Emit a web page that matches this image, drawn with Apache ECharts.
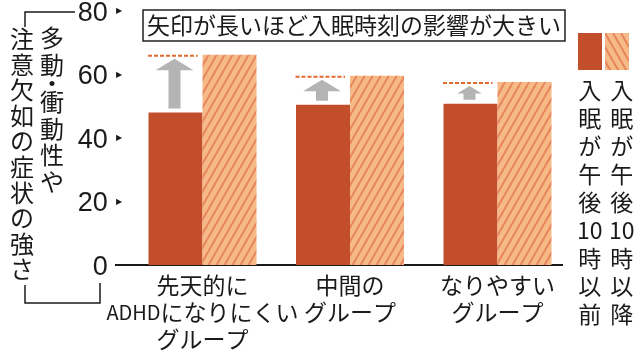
<!DOCTYPE html>
<html><head><meta charset="utf-8">
<script src="https://cdn.jsdelivr.net/npm/echarts@6/dist/echarts.min.js"></script>
<style>html,body{margin:0;padding:0;background:#fff}#c{width:640px;height:356px}</style>
</head><body><div id="c"></div>
<script>
const categories = ['先天的に\nADHDになりにくい\nグループ', '中間の\nグループ', 'なりやすい\nグループ'];
const before10 = [48.0, 50.5, 50.8];
const after10 = [66.2, 59.6, 57.6];
const yTicks = [0, 20, 40, 60, 80];
const seriesNames = ['入眠が午後10時以前', '入眠が午後10時以降'];
const titleText = '矢印が長いほど入眠時刻の影響が大きい';
const yTitleA = ['多', '動', '・', '衝', '動', '性', 'や'];
const yTitleB = ['注', '意', '欠', '如', 'の', '症', '状', 'の', '強', 'さ'];
const legendCells = [['入', '眠', 'が', '午', '後', '10', '時', '以', '前'], ['入', '眠', 'が', '午', '後', '10', '時', '以', '降']];

const CJK = "'Liberation Sans Narrow','Noto Sans CJK JP'";
const SOLID = '#c24e2c';
const HBG = '#f6b988';
const HSTR = '#e8855a';

function hatch(dir) {
  const w = 8, h = 14;
  const c = document.createElement('canvas');
  c.width = w; c.height = h;
  const g = c.getContext('2d');
  g.fillStyle = HBG; g.fillRect(0, 0, w, h);
  g.strokeStyle = HSTR; g.lineWidth = 2;
  for (let k = -1; k <= 1; k++) {
    g.beginPath();
    if (dir > 0) { g.moveTo(k * w, h); g.lineTo(k * w + w, 0); }
    else { g.moveTo(k * w, 0); g.lineTo(k * w + w, h); }
    g.stroke();
  }
  return c;
}
const patBar = { image: hatch(1), repeat: 'repeat' };
const patLeg = { image: hatch(-1), repeat: 'repeat' };

const BARW = 54;
const arrowData = categories.map((c, i) => [i, before10[i], after10[i]]);

const chart = echarts.init(document.getElementById('c'), null, { renderer: 'canvas' });
chart.setOption({
  animation: false,
  backgroundColor: '#fff',
  title: {
    text: titleText, left: 143, top: 10,
    borderColor: '#222', borderWidth: 1.5, padding: [3, 4, 3, 4],
    backgroundColor: '#fff',
    textStyle: { fontFamily: CJK, fontSize: 23, fontWeight: 'normal', color: '#1a1a1a', lineHeight: 25 }
  },
  legend: {
    left: 578, top: 33, padding: 0, itemWidth: 24, itemHeight: 37, itemGap: 3, icon: 'rect',
    formatter: () => '', selectedMode: false,
    data: [
      { name: seriesNames[0], itemStyle: { color: SOLID } },
      { name: seriesNames[1], itemStyle: { color: patLeg } }
    ]
  },
  grid: { left: 128.75, width: 442.5, top: 10, height: 255 },
  xAxis: {
    type: 'category', data: categories,
    axisLine: { show: false }, axisTick: { show: false },
    axisLabel: {
      interval: 0, margin: 7, fontFamily: CJK, fontSize: 23, lineHeight: 27, color: '#1a1a1a',
      formatter: v => v.replace('ADHD', '{s|ADHD}'),
      rich: { s: { fontFamily: CJK, fontSize: 20, lineHeight: 27, color: '#1a1a1a' } }
    }
  },
  yAxis: {
    type: 'value', min: 0, max: 80, interval: 20,
    splitLine: { show: false }, axisLine: { show: false }, axisTick: { show: false },
    axisLabel: {
      margin: 7,
      formatter: v => v === 0 ? '{n|' + v + '}{e| }' : '{n|' + v + '}{t|▶}',
      rich: {
        n: { fontFamily: "'Liberation Sans'", fontSize: 27, color: '#1a1a1a', padding: [5, 0, 0, 0] },
        t: { fontSize: 8, width: 14, align: 'right', color: '#1a1a1a' },
        e: { fontSize: 8, width: 14 }
      }
    }
  },
  series: [
    { name: seriesNames[0], type: 'bar', data: before10, barWidth: BARW, barGap: '0%', itemStyle: { color: SOLID } },
    { name: seriesNames[1], type: 'bar', data: after10, barWidth: BARW, barGap: '0%', itemStyle: { color: patBar } },
    {
      name: 'arrow', type: 'custom', z: 5, data: arrowData,
      encode: { x: 0, y: [1, 2] },
      renderItem: function (params, api) {
        const idx = api.value(0);
        const center = api.coord([idx, 0])[0];
        const bx = center - BARW / 2;
        const yTop = api.coord([idx, api.value(2)])[1];
        const yBot = api.coord([idx, api.value(1)])[1];
        const cx = bx - 1;
        const tip = yTop + 4, base = yBot - 4;
        const len = base - tip;
        const headH = Math.min(11.5, len * 0.55);
        const headW = Math.min(38, headH * 3.3);
        const sw = 12;
        return {
          type: 'group', children: [
            { type: 'line', shape: { x1: bx - BARW / 2 - 0.5, y1: yTop + 1, x2: bx + BARW / 2 - 5, y2: yTop + 1 },
              style: { stroke: '#e2692c', lineWidth: 2, lineDash: [4, 2] } },
            { type: 'polygon', shape: { points: [
              [cx, tip], [cx + headW / 2, tip + headH], [cx + sw / 2, tip + headH], [cx + sw / 2, base],
              [cx - sw / 2, base], [cx - sw / 2, tip + headH], [cx - headW / 2, tip + headH]] },
              style: { fill: '#b4b4b4' } }
          ]
        };
      }
    }
  ],
  graphic: [
    { type: 'line', shape: { x1: 115, y1: 265, x2: 563, y2: 265 }, style: { stroke: '#1a1a1a', lineWidth: 2 } },
    { type: 'polyline', shape: { points: [[75, 12], [25, 12], [25, 27]] }, style: { stroke: '#1a1a1a', lineWidth: 1.5, fill: null } },
    { type: 'polyline', shape: { points: [[25, 285], [25, 303], [100, 303], [100, 283]] }, style: { stroke: '#1a1a1a', lineWidth: 1.5, fill: null } },
    { type: 'text', left: 40, top: 26, style: {
      text: yTitleA.map(ch => ch === '・' ? '{d|' + ch + '}' : '{a|' + ch + '}').join('\n'),
      rich: { a: { fontFamily: CJK, fontSize: 24, lineHeight: 26.5, fill: '#1a1a1a', align: 'center' }, d: { fontFamily: CJK, fontSize: 24, lineHeight: 11, fill: '#1a1a1a', align: 'center' } },
      textAlign: 'center' } },
    { type: 'text', left: 10, top: 26, style: {
      text: yTitleB.join('\n'), font: '24px ' + CJK, lineHeight: 25.6, fill: '#1a1a1a', textAlign: 'center' } },
    { type: 'text', left: 577, top: 76, style: {
      text: legendCells[0].join('\n'), font: '23px ' + CJK, lineHeight: 28, fill: '#1a1a1a', textAlign: 'center' } },
    { type: 'text', left: 609, top: 76, style: {
      text: legendCells[1].join('\n'), font: '23px ' + CJK, lineHeight: 28, fill: '#1a1a1a', textAlign: 'center' } }
  ]
});
</script></body></html>
